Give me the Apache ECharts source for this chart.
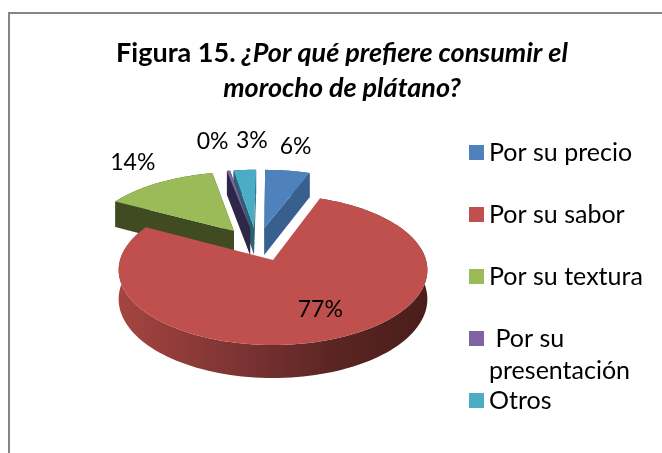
<!DOCTYPE html>
<html><head><meta charset="utf-8">
<style>html,body{margin:0;padding:0;background:#fff}#c{width:662px;height:453px}</style>
<script src="https://cdn.jsdelivr.net/npm/echarts@6/dist/echarts.min.js"></script>
</head><body><div id="c"></div>
<script>
var categories = ['Por su precio', 'Por su sabor', 'Por su textura', ' Por su\npresentación', 'Otros'];
var values = [5.6, 77.2, 14, 0.4, 2.8];

var FONT = 'Lato';
var topColors = ['#4F81BD', '#C0504D', '#9BBB59', '#8064A2', '#4BACC6'];
var wallColors = ['#38608E', '#C0504D', '#414B21', '#2F2748', '#2A6273'];
var drawOrder = [0, 4, 3, 2, 1];
var exploded = 0.24, explodedX = 0.27, clusterShiftX = -0.012;
var perspective = 0.133, tiltY = 73.7, scaleX = 153, originX = 273, originY = 260, depth = 28.6;
var labelOffset = [[8, -24], [-15, -29], [-26, -20], [-16, -29], [7, -29]];
var legendTop = [136.5, 198.5, 260.5, 290.5, 384.5];

var total = values.reduce(function (a, b) { return a + b; }, 0);
var cum = [], acc = 0;
values.forEach(function (v) { cum.push(acc); acc += v; });

function dir(deg) { var r = deg * Math.PI / 180; return [Math.sin(r), -Math.cos(r)]; }
function project(X, Y, down) {
  var s = 1 / (1 - perspective * Y);
  return [originX + scaleX * X * s, originY + tiltY * Y * s + (down ? depth * s : 0)];
}
function sliceGeom(i) {
  var a0 = cum[i] / total * 360, a1 = (cum[i] + values[i]) / total * 360, mid = (a0 + a1) / 2;
  var d = dir(mid), od = dir(cum[1] / total * 360 + values[1] / total * 180);
  var ax = i === 1 ? 0 : explodedX * (d[0] - od[0]) + clusterShiftX, ay = exploded * (d[1] - od[1]);
  var n = Math.max(4, Math.ceil((a1 - a0) / 2)), arc = [];
  for (var k = 0; k <= n; k++) {
    var t = dir(a0 + (a1 - a0) * k / n);
    arc.push([ax + t[0], ay + t[1]]);
  }
  return { apex: [ax, ay], arc: arc, mid: [ax + d[0], ay + d[1]] };
}
function prism(pts) {
  var top = pts.map(function (p) { return project(p[0], p[1], false); });
  var bot = pts.map(function (p) { return project(p[0], p[1], true); }).reverse();
  return top.concat(bot);
}
var redWall = { type: 'linear', x: 0, y: 0, x2: 1, y2: 0, colorStops: [
  { offset: 0, color: '#A4453F' }, { offset: 0.22, color: '#8E3B39' }, { offset: 0.45, color: '#753130' },
  { offset: 0.7, color: '#5A2523' }, { offset: 1, color: '#4A1D1B' }] };

function renderSlice(i) {
  return function (params, api) {
    var g = sliceGeom(i), children = [];
    var wall = i === 1 ? redWall : wallColors[i];
    function poly(points, fill) {
      children.push({ type: 'polygon', shape: { points: points }, style: { fill: fill } });
    }
    if (i !== 1) {
      poly(prism([g.arc[0], g.apex]), wall);
      poly(prism([g.arc[g.arc.length - 1], g.apex]), wall);
    }
    poly(prism(g.arc), wall);
    poly([project(g.apex[0], g.apex[1])].concat(g.arc.map(function (p) { return project(p[0], p[1]); })), topColors[i]);
    var lp = project(g.mid[0], g.mid[1]);
    children.push({ type: 'text', z2: 10, style: {
      x: lp[0] + labelOffset[i][0], y: lp[1] + labelOffset[i][1],
      text: Math.round(api.value(0) / total * 100) + '%',
      font: '23px ' + FONT, fill: '#000', align: 'center', verticalAlign: 'middle' } });
    return { type: 'group', children: children };
  };
}

var series = drawOrder.map(function (i) {
  return {
    type: 'custom', name: categories[i], coordinateSystem: 'none',
    data: [values[i]], itemStyle: { color: topColors[i] },
    renderItem: renderSlice(i), animation: false, z: 2, silent: true,
    clip: false
  };
});

var legends = categories.map(function (c, i) {
  return {
    data: [c], orient: 'vertical', left: 469, top: legendTop[i], padding: 0,
    itemWidth: 15, itemHeight: 15, icon: 'rect', selectedMode: false,
    formatter: function (n) { return n.indexOf('\n') >= 0 ? ' \n' + n : n; },
    textStyle: { fontFamily: FONT, fontSize: 25, color: '#000', lineHeight: 32 }
  };
});

var chart = echarts.init(document.getElementById('c'), null, { renderer: 'canvas' });
chart.setOption({
  animation: false,
  backgroundColor: '#fff',
  title: {
    text: '{b|Figura 15.}{i| ¿Por qué prefiere consumir el}\n{i|morocho de plátano?}',
    left: 342, top: 36, textAlign: 'center', padding: 0,
    textStyle: { rich: {
      b: { fontFamily: FONT, fontSize: 27, fontWeight: 'bold', lineHeight: 35, color: '#000' },
      i: { fontFamily: FONT, fontSize: 27, fontWeight: 'bold', fontStyle: 'italic', lineHeight: 35, color: '#000' }
    } }
  },
  legend: legends,
  graphic: [{ type: 'rect', silent: true, z: -1, shape: { x: 9, y: 13, width: 900, height: 900 },
    style: { fill: 'transparent', stroke: '#868686', lineWidth: 2 } }],
  series: series
});
</script></body></html>
